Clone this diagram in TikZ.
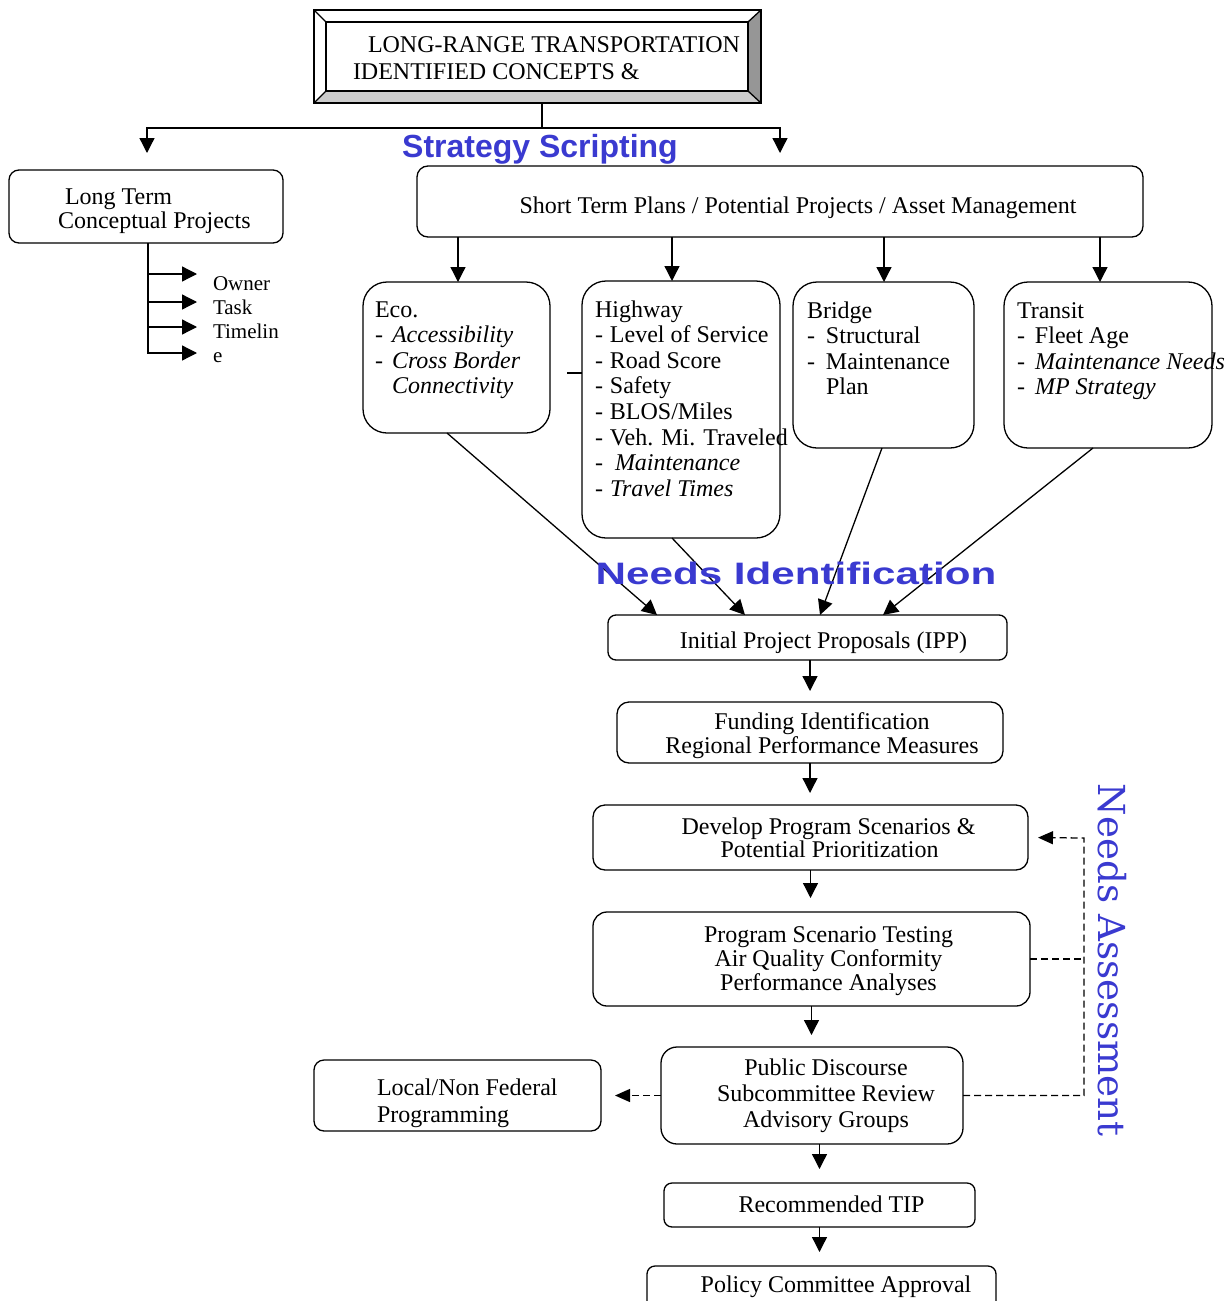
\documentclass[tikz,border=0pt]{standalone}
\usepackage{fontspec}
\usepackage{graphicx}
\setmainfont{Liberation Serif}
\newfontfamily\hdsans{Liberation Sans}
\newfontfamily\naserif{DejaVu Serif}
\usetikzlibrary{arrows.meta,fit,calc}
\definecolor{hblue}{RGB}{58,58,208}
\definecolor{bevlight}{RGB}{204,204,204}
\definecolor{bevdark}{RGB}{150,150,150}
\newcommand\dsh[1]{\makebox[#1][l]{-}}
\begin{document}
\begin{tikzpicture}[x=0.5pt,y=-0.5pt,
  every node/.style={inner sep=0pt, outer sep=0pt},
  box/.style={draw, line width=0.65pt, rounded corners=#1},
  box/.default=5pt,
  txt/.style={font=\fontsize{12}{12.8}\selectfont, anchor=base west},
  ctxt/.style={font=\fontsize{12}{12}\selectfont, anchor=base},
  ln/.style={line width=0.65pt},
  arr/.style={line width=0.65pt, -{Triangle[length=7.5pt,width=7.5pt]}},
  darr/.style={line width=0.65pt, dash pattern=on 3.5pt off 2pt, -{Triangle[length=7.5pt,width=6.5pt]}},
  dln/.style={line width=0.65pt, dash pattern=on 3.5pt off 2pt},
  blue head/.style={text=hblue, anchor=base}
]
\useasboundingbox (0,0) rectangle (1228,1301);

% ---------- top bevel box ----------
\node[fit={(314,10)(761,103)}] (lr) {};
\fill[bevlight] (314,103) -- (761,103) -- (748,91) -- (326,91) -- cycle;
\fill[bevdark] (761,10) -- (761,103) -- (748,91) -- (748,22) -- cycle;
\draw[line width=0.9pt] (314,10) rectangle (761,103);
\draw[ln] (326,22) rectangle (748,91);
\draw[ln] (314,10) -- (326,22) (761,10) -- (748,22) (314,103) -- (326,91) (761,103) -- (748,91);
\node[txt] (lrt1) at (368,52) {LONG-RANGE TRANSPORTATION};
\node[txt] (lrt2) at (353,79) {IDENTIFIED CONCEPTS \&};

% ---------- split ----------
\coordinate (sj) at (542,128);
\coordinate (la) at (147,153);
\coordinate (ra) at (780,153);
\draw[ln] ([xshift=2.25pt]lr.south) -- (sj);
\draw[arr] (sj) -| (la);
\draw[arr] (sj) -| (ra);
\node[blue head, font=\hdsans\fontsize{16}{18}\selectfont\bfseries] (ss) at (540,157) {Strategy Scripting};

% ---------- long term ----------
\node[box=5pt, fit={(9,170)(283,243)}] (lt) {};
\node[txt] (ltt1) at (65,204) {Long Term};
\node[txt] (ltt2) at (58,228) {Conceptual Projects};
\coordinate (lv) at ([xshift=1pt]lt.south);
\coordinate (o1) at (197,274);
\coordinate (o2) at (197,302);
\coordinate (o3) at (197,327);
\coordinate (o4) at (197,353);
\draw[arr] (lv) |- (o4);
\draw[arr] (lv |- o1) -- (o1);
\draw[arr] (lv |- o2) -- (o2);
\draw[arr] (lv |- o3) -- (o3);
\node[font=\fontsize{10.5}{12}\selectfont, anchor=base west] (owt) at (213,290)
  {\begin{tabular}[t]{@{}l@{}}Owner\\Task\\Timelin\\e\end{tabular}};

% ---------- short term ----------
\node[box=5.5pt, fit={(417,166)(1143,237)}] (st) {};
\node[ctxt] (stt) at (798,213) {Short Term Plans / Potential Projects / Asset Management};

% ---------- category boxes ----------
\node[box=12pt, fit={(363,282)(550,433)}] (eco) {};
\node[box=12pt, fit={(582,281)(780,538)}] (hw) {};
\node[box=12pt, fit={(793,282)(974,448)}] (br) {};
\node[box=12pt, fit={(1004,282)(1212,448)}] (tr) {};

\node[txt] (ecot) at (375,317) {\begin{tabular}[t]{@{}l@{}}Eco.\\
  \dsh{8.5pt}\textit{Accessibility}\\
  \dsh{8.5pt}\textit{Cross Border}\\
  \hspace*{8.5pt}\textit{Connectivity}\end{tabular}};
\node[txt] (hwt) at (595,317) {\begin{tabular}[t]{@{}l@{}}Highway\\
  \dsh{7.5pt}Level of Service\\
  \dsh{7.5pt}Road Score\\
  \dsh{7.5pt}Safety\\
  \dsh{7.5pt}BLOS/Miles\\
  \dsh{7.5pt}Veh. Mi. Traveled\\
  \dsh{10pt}\textit{Maintenance}\\
  \dsh{7.5pt}\textit{Travel Times}\end{tabular}};
\node[txt] (brt) at (807,318) {\begin{tabular}[t]{@{}l@{}}Bridge\\
  \dsh{9.5pt}Structural\\
  \dsh{9.5pt}Maintenance\\
  \hspace*{9.5pt}Plan\end{tabular}};
\node[txt] (trt) at (1017,318) {\begin{tabular}[t]{@{}l@{}}Transit\\
  \dsh{9pt}Fleet Age\\
  \dsh{9pt}\textit{Maintenance Needs}\\
  \dsh{9pt}\textit{MP Strategy}\end{tabular}};

\coordinate (tk) at (567,373);
\draw[ln] (tk) -- (tk -| hw.west);

\coordinate (ecin) at ([xshift=0.75pt]eco.north);
\coordinate (hwin) at ([xshift=-4.5pt]hw.north);
\coordinate (brin) at ([xshift=0.25pt]br.north);
\coordinate (trin) at ([xshift=-4pt]tr.north);
\draw[arr] (st.south -| ecin) -- (ecin);
\draw[arr] (st.south -| hwin) -- (hwin);
\draw[arr] (st.south -| brin) -- (brin);
\draw[arr] (st.south -| trin) -- (trin);

% ---------- IPP ----------
\node[box=4pt, fit={(608,615)(1007,660)}] (ipp) {};
\node[ctxt] (ippt) at (823.5,648) {Initial Project Proposals (IPP)};
\draw[arr] ([xshift=-4.75pt]eco.south) -- ([xshift=-75.25pt]ipp.north);
\draw[arr] ([xshift=-4.5pt]hw.south) -- ([xshift=-31.25pt]ipp.north);
\draw[arr] ([xshift=-0.75pt]br.south) -- ([xshift=6.25pt]ipp.north);
\draw[arr] ([xshift=-7.5pt]tr.south) -- ([xshift=37.75pt]ipp.north);
\node[blue head, font=\hdsans\fontsize{15.5}{18}\selectfont\bfseries] (nid) at (796,584)
  {\scalebox{1.36}[1]{Needs Identification}};

% ---------- main chain ----------
\node[box=6pt, fit={(617,702)(1003,763)}] (fund) {};
\node[ctxt] (fundt) at (822,729) {\begin{tabular}[t]{@{}c@{}}Funding Identification\\Regional Performance Measures\end{tabular}};

\node[box=6pt, fit={(593,805)(1028,870)}] (dev) {};
\node[ctxt, font=\fontsize{12}{11.5}\selectfont] (devt) at (828.5,834) {\begin{tabular}[t]{@{}c@{}}Develop Program Scenarios \&\\\hspace*{1pt}Potential Prioritization\end{tabular}};

\node[box=7pt, fit={(593,912)(1030,1006)}] (prog) {};
\node[ctxt] (progt) at (828.5,942) {\begin{tabular}[t]{@{}c@{}}Program Scenario Testing\\Air Quality Conformity\\Performance Analyses\end{tabular}};

\node[box=8pt, fit={(661,1047)(963,1144)}] (pub) {};
\node[ctxt, font=\fontsize{12}{13}\selectfont] (pubt) at (826,1075) {\begin{tabular}[t]{@{}c@{}}Public Discourse\\Subcommittee Review\\Advisory Groups\end{tabular}};

\node[box=5pt, fit={(314,1060)(601,1131)}] (loc) {};
\node[txt, font=\fontsize{12}{13.5}\selectfont] (loct) at (377,1095) {\begin{tabular}[t]{@{}l@{}}Local/Non Federal\\Programming\end{tabular}};

\node[box=4pt, fit={(664,1183)(975,1227)}] (rec) {};
\node[ctxt] (rect) at (831.5,1212) {Recommended TIP};

\node[box=4pt, fit={(647,1266)(996,1330)}] (pol) {};
\node[ctxt] (polt) at (836,1292) {Policy Committee Approval};

\draw[arr, shorten >=5.5pt] (ipp.south -| fund.north) -- (fund.north);
\draw[arr, shorten >=6pt] (fund.south) -- (fund.south |- dev.north);
\draw[arr, shorten >=7pt] (dev.south) -- (dev.south |- prog.north);
\draw[arr, shorten >=6pt] (prog.south) -- (prog.south |- pub.north);
\draw[arr, shorten >=7pt] (pub.south -| rec.north) -- (rec.north);
\draw[arr, shorten >=7pt] (rec.south) -- (rec.south |- pol.north);

% ---------- dashed feedback ----------
\draw[darr, shorten >=7pt] (pub.west) -- (loc.east);
\coordinate (nax) at (1084,838);
\draw[darr, shorten >=5pt] (pub.east) -| (nax) -- (dev.east);
\draw[dln] (prog.east) -- (prog.east -| nax);
\node[font=\naserif\fontsize{18.6}{20}\selectfont, text=hblue, rotate=-90] (nas) at (1112,960) {Needs Assessment};
\end{tikzpicture}
\end{document}
